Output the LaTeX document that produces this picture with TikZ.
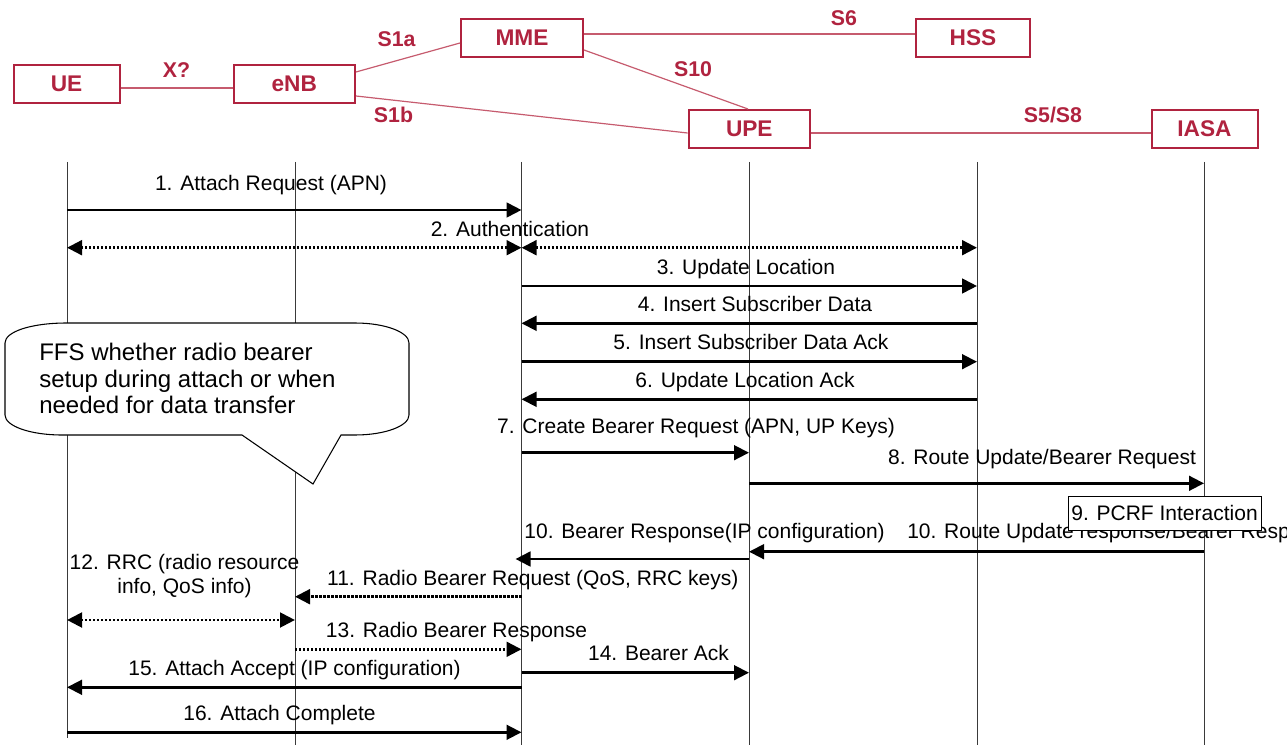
\documentclass[tikz,border=0pt]{standalone}
\usepackage{fontspec}
\setmainfont{Liberation Sans}
\usepackage{tikz}
\usetikzlibrary{
    arrows.meta      % For the Triangle tips on the messages
}
\definecolor{boxred}{HTML}{B0233F}
\definecolor{linkred}{HTML}{C65B6E}
\definecolor{lifegray}{HTML}{3A3A3A}

\begin{document}
\begin{tikzpicture}[x=0.75pt, y=-0.75pt]

    % --- Style Definitions ---
    \tikzset{
        % Network elements of the architecture on top
        entity/.style={
            rectangle,
            draw=boxred,
            line width=1.5pt,
            fill=white,
            text=boxred,
            font=\bfseries\fontsize{17}{20}\selectfont,
            minimum height=28.5pt,
            inner sep=0pt
        },
        % Interfaces between the elements
        iface/.style={draw=linkred, line width=0.9pt},
        iflabel/.style={
            text=boxred,
            font=\bfseries\fontsize{16}{19}\selectfont,
            anchor=base,
            inner sep=0pt
        },
        lifeline/.style={draw=lifegray, line width=0.75pt},
        % Signalling messages
        msg/.style={
            -{Triangle[length=11.25pt, width=11pt]},
            line width=2pt
        },
        dotmsg/.style={msg, line width=2.2pt, dash pattern=on 1.6pt off 1.4pt},
        twoway/.style={
            {Triangle[length=11.25pt, width=11pt]}-{Triangle[length=11.25pt, width=11pt]}
        },
        msglabel/.style={
            font=\fontsize{15.75}{18}\selectfont,
            anchor=base,
            inner sep=0pt
        },
        note/.style={draw=black, line width=0.8pt, fill=white}
    }

    \useasboundingbox (0,0) rectangle (1287,745);

    % --- Architecture ---
    \node[entity, minimum width=79.5pt] (UE)   at (66.5,84)   {UE};
    \node[entity, minimum width=91pt]   (eNB)  at (294.3,84)  {eNB};
    \node[entity, minimum width=91.5pt] (MME)  at (522,38)    {MME};
    \node[entity, minimum width=85.8pt] (HSS)  at (973,38)    {HSS};
    \node[entity, minimum width=91pt]   (UPE)  at (749.3,129) {UPE};
    \node[entity, minimum width=79.5pt] (IASA) at (1204.5,129) {IASA};

    \draw[iface] ([yshift=-3pt]UE.east) -- ([yshift=-3pt]eNB.west);
    \draw[iface] ([yshift=9pt]eNB.east) -- ([yshift=-3.75pt]MME.west);
    \draw[iface] ([yshift=-9pt]eNB.east) -- ([yshift=-3pt]UPE.west);
    \draw[iface] ([yshift=3pt]MME.east) -- ([yshift=3pt]HSS.west);
    \draw[iface] ([yshift=-9pt]MME.east) -- ([xshift=-1pt]UPE.north);
    \draw[iface] ([yshift=-3pt]UPE.east) -- ([yshift=-3pt]IASA.west);

    \node[iflabel] (xq)   at (176.5,78) {X?};
    \node[iflabel] (s1a)  at (396.5,47) {S1a};
    \node[iflabel] (s1b)  at (393.5,123) {S1b};
    \node[iflabel] (s6)   at (844,26)   {S6};
    \node[iflabel] (s10)  at (693,77)   {S10};
    \node[iflabel] (s5s8) at (1053,123) {S5/S8};

    % --- Lifelines ---
    \foreach \n/\x/\e in {ue/67/738, enb/295/745, mme/521.5/745,
                          upe/749/745, hss/977/745, iasa/1204/745} {
        \coordinate (\n) at (\x,162);
        \draw[lifeline] (\n) -- (\x,\e) coordinate (\n-end);
    }

    % Comment bubble over the UE and eNB lifelines
    \draw[note] (67,323) -- (355,323)
        .. controls (385,323) and (409,332) .. (409,343) -- (409,415)
        .. controls (409,426) and (385,435) .. (355,435) -- (341,435)
        -- (313,484) -- (242,435) -- (62,435)
        .. controls (30,435) and (5,426) .. (5,415) -- (5,343)
        .. controls (5,332) and (30,323) .. (67,323) -- cycle;
    \node[anchor=west, align=left, inner sep=0pt,
          font=\fontsize{18}{20}\selectfont] (ffs) at (39,378.5)
        {FFS whether radio bearer\\setup during attach or when\\needed for data transfer};

    % --- Messages ---
    \foreach \r/\y in {1/210, 2/247.7, 3/286, 4/323.3, 5/361.7, 6/399.3,
                       7/452.7, 8/483.3, 10a/551.7, 10b/559, 11/596.7,
                       12/620, 13/649.3, 14/672.7, 15/687.3, 16/732.3}
        \coordinate (r\r) at (0,\y);

    \draw[msg] (ue |- r1) -- (mme |- r1);
    \draw[dotmsg, twoway] (ue |- r2) -- (mme |- r2);
    \draw[dotmsg, twoway] (mme |- r2) -- (hss |- r2);
    \draw[msg] (mme |- r3) -- (hss |- r3);
    \draw[msg] (hss |- r4) -- (mme |- r4);
    \draw[msg] (mme |- r5) -- (hss |- r5);
    \draw[msg] (hss |- r6) -- (mme |- r6);
    \draw[msg] (mme |- r7) -- (upe |- r7);
    \draw[msg] (upe |- r8) -- (iasa |- r8);
    \draw[msg] (iasa |- r10a) -- (upe |- r10a);
    \draw[msg, shorten >=-4.5pt] (upe |- r10b) -- (mme |- r10b);
    \draw[dotmsg] (mme |- r11) -- (enb |- r11);
    \draw[dotmsg, twoway] (ue |- r12) -- (enb |- r12);
    \draw[dotmsg] (enb |- r13) -- (mme |- r13);
    \draw[msg] (mme |- r14) -- (upe |- r14);
    \draw[msg] (mme |- r15) -- (ue |- r15);
    \draw[msg] (ue |- r16) -- (mme |- r16);

    \node[msglabel] (l1)  at (271,191)   {1. Attach Request (APN)};
    \node[msglabel] (l2)  at (510,236.7) {2. Authentication};
    \node[msglabel] (l3)  at (746,274.3) {3. Update Location};
    \node[msglabel] (l4)  at (755,311.7) {4. Insert Subscriber Data};
    \node[msglabel] (l5)  at (751,349.3) {5. Insert Subscriber Data Ack};
    \node[msglabel] (l6)  at (745,387.7) {6. Update Location Ack};
    \node[msglabel] (l7)  at (696,433.3) {7. Create Bearer Request (APN, UP Keys)};
    \node[msglabel] (l8)  at (1042,464.3) {8. Route Update/Bearer Request};
    \node[msglabel, anchor=base west] (l10a) at (907,538.3)
        {10. Route Update response/Bearer Response};
    \node[msglabel] (l10b) at (704.6,538.3) {10. Bearer Response(IP configuration)};
    \node[msglabel] (l11) at (532.8,585) {11. Radio Bearer Request (QoS, RRC keys)};
    \node[msglabel, anchor=center, align=center] (l12) at (184.5,575.6)
        {12. RRC (radio resource\\info, QoS info)};
    \node[msglabel] (l13) at (456.5,637.3) {13. Radio Bearer Response};
    \node[msglabel] (l14) at (658.5,660)   {14. Bearer Ack};
    \node[msglabel] (l15) at (294.5,675)   {15. Attach Accept (IP configuration)};
    \node[msglabel] (l16) at (279.5,720)   {16. Attach Complete};

    % Policy step sits on top of the response label
    \node[draw=black, line width=0.75pt, fill=white, inner sep=0pt,
          minimum width=144.75pt, minimum height=25.5pt,
          font=\fontsize{15.75}{18}\selectfont] (pcrf) at (1164.5,513)
        {9. PCRF Interaction};

\end{tikzpicture}
\end{document}
